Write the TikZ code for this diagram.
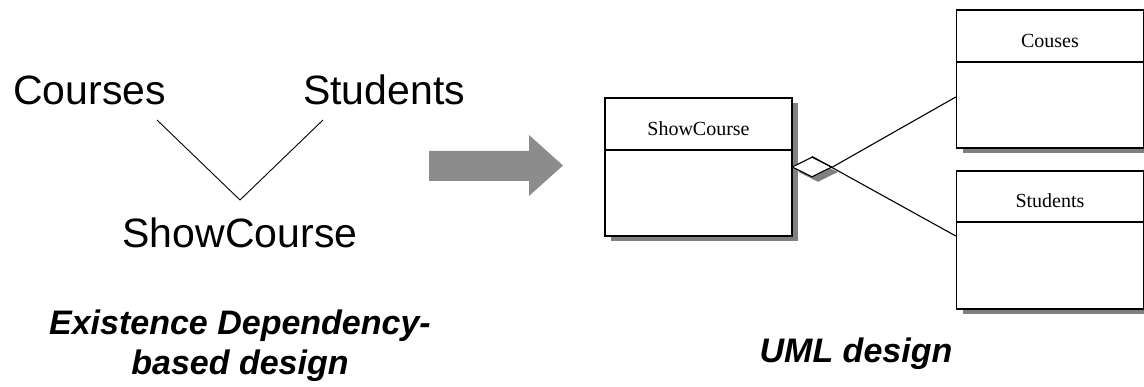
\documentclass[tikz,border=0pt]{standalone}
\usepackage{fontspec}
\setmainfont{Liberation Sans}
\newfontfamily\serifface{Liberation Serif}
\usetikzlibrary{shapes.geometric,shadows,calc}

\begin{document}
\begin{tikzpicture}[x=1pt,y=-1pt,
  bigtext/.style={inner sep=0pt,font=\fontsize{41}{49}\selectfont},
  caption/.style={inner sep=0pt,font=\fontsize{34}{40}\selectfont\bfseries\itshape,align=center},
  umlshadow/.style={drop shadow={shadow xshift=6pt,shadow yshift=-5pt,fill=black!50,opacity=1}},
  classbox/.style={draw,line width=1.4pt,fill=white,minimum width=187pt,minimum height=138pt,inner sep=0pt,umlshadow},
  classname/.style={inner sep=0pt,anchor=base,font=\serifface\fontsize{20}{24}\selectfont},
  divider/.style={line width=1.2pt},
  vline/.style={line width=0.9pt},
  link/.style={line width=1.1pt},
  bigarrow/.style={fill=black!45,draw=none}]
\useasboundingbox (0,0) rectangle (1144,387);

% ---- existence dependency sketch ----
\node[bigtext,anchor=base west] (courses) at (13,105) {Courses};
\node[bigtext,anchor=base west] (students) at (303,105) {Students};
\node[bigtext,anchor=base] (show) at (240,248) {ShowCourse};
\coordinate (cfoot) at (157,120);
\coordinate (sfoot) at (323,120);
\coordinate (vtip) at (240,200);
\draw[vline] (cfoot) -- (vtip) -- (sfoot);

\node[caption] (edcap) at (240,346) {Existence Dependency-\\based design};

% ---- transformation arrow ----
\fill[bigarrow] (429,151) -- (529,151) -- (529,135) -- (563,165.5)
  -- (529,196) -- (529,181) -- (429,181) -- cycle;

% ---- UML class diagram ----
\node[classbox] (scbox) at (698.5,167) {};
\draw[divider] (605,150) -- (792,150);
\node[classname] (sclabel) at (698.5,136) {ShowCourse};

\node[classbox] (cobox) at (1050,79) {};
\draw[divider] (957,62) -- (1143,62);
\node[classname] (colabel) at (1050,48) {Couses};

\node[classbox] (stbox) at (1050,240) {};
\draw[divider] (957,222) -- (1143,222);
\node[classname] (stlabel) at (1050,208) {Students};

\node[diamond,draw,line width=1.1pt,fill=white,minimum width=40pt,minimum height=20pt,
      inner sep=0pt,umlshadow] (agg) at (812,167) {};

\draw[link] (agg.east) -- ($(cobox.west)+(0,18)$);
\draw[link] (agg.north) -- ($(stbox.west)+(0,-4)$);

\node[caption,anchor=base] (umlcap) at (856,363) {UML design};
\end{tikzpicture}
\end{document}
